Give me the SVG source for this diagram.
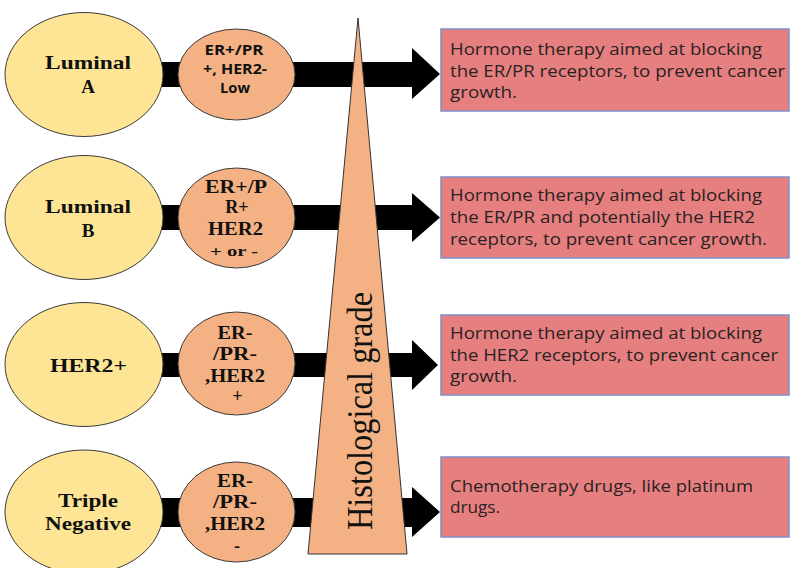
<svg xmlns="http://www.w3.org/2000/svg" width="791" height="568" viewBox="0 0 791 568">
<style>
.sub{fill:#FDE595;stroke:#3a3a3a;stroke-width:1}
.mk{fill:#F4B183;stroke:#3a3a3a;stroke-width:1}
.box{fill:#E67F7F;stroke:#7F8FC4;stroke-width:1.5}
.arr{fill:#000}
.lt{font-family:"Liberation Serif","Times New Roman",serif;font-weight:bold;font-size:19px;fill:#111;text-anchor:middle}
.ms{font-family:"Liberation Serif","Times New Roman",serif;font-weight:bold;font-size:18px;fill:#111;text-anchor:middle}
.mc{font-family:"Open Sans","Liberation Sans",sans-serif;font-weight:bold;font-size:14px;fill:#111;text-anchor:middle}
.bt{font-family:"Open Sans","Liberation Sans",sans-serif;font-size:16px;fill:#2a2222}
.hg{font-family:"Liberation Serif","Times New Roman",serif;font-size:36px;fill:#111}
</style>
<rect width="791" height="568" fill="#fff"/>
<g id="connectors">
<polygon class="arr" points="150,62 412,62 412,48 440,74 412,99 412,87 150,87"/>
<polygon class="arr" points="150,205 412,205 412,193 440,217.5 412,242 412,230 150,230"/>
<polygon class="arr" points="150,353 412,353 412,340 438,365 412,390 412,377 150,377"/>
<polygon class="arr" points="150,498 412,498 412,487 440,512 412,537 412,527 150,527"/>
</g>
<g id="luminal-a">
<ellipse class="sub" cx="84" cy="74.5" rx="79" ry="62"/>
<text class="lt" x="88" y="69" textLength="86" lengthAdjust="spacingAndGlyphs">Luminal</text>
<text class="lt" x="88" y="93">A</text>
</g>
<g id="luminal-a-markers">
<ellipse class="mk" cx="236.5" cy="74.5" rx="58.5" ry="45.5"/>
<text class="mc" x="234" y="55" textLength="59" lengthAdjust="spacingAndGlyphs">ER+/PR</text>
<text class="mc" x="235" y="74" textLength="64" lengthAdjust="spacingAndGlyphs">+, HER2-</text>
<text class="mc" x="235" y="93" textLength="30" lengthAdjust="spacingAndGlyphs">Low</text>
</g>
<g id="luminal-b">
<ellipse class="sub" cx="84" cy="217.5" rx="79" ry="62"/>
<text class="lt" x="88" y="213" textLength="86" lengthAdjust="spacingAndGlyphs">Luminal</text>
<text class="lt" x="88" y="237">B</text>
</g>
<g id="luminal-b-markers">
<ellipse class="mk" cx="236.5" cy="218" rx="58.5" ry="50"/>
<text class="ms" x="236" y="193" textLength="62" lengthAdjust="spacingAndGlyphs">ER+/P</text>
<text class="ms" x="237" y="213">R+</text>
<text class="ms" x="235.5" y="235" textLength="55" lengthAdjust="spacingAndGlyphs">HER2</text>
<text class="ms" x="234" y="256" style="font-size:15px" textLength="48" lengthAdjust="spacingAndGlyphs">+ or -</text>
</g>
<g id="her2">
<ellipse class="sub" cx="84" cy="364.5" rx="79" ry="62"/>
<text class="lt" x="88.5" y="372" textLength="77" lengthAdjust="spacingAndGlyphs">HER2+</text>
</g>
<g id="her2-markers">
<ellipse class="mk" cx="236.5" cy="363.5" rx="58.5" ry="51.5"/>
<text class="ms" x="235" y="339" textLength="35" lengthAdjust="spacingAndGlyphs">ER-</text>
<text class="ms" x="235" y="360" textLength="44" lengthAdjust="spacingAndGlyphs">/PR-</text>
<text class="ms" x="235" y="382" textLength="60" lengthAdjust="spacingAndGlyphs">,HER2</text>
<text class="ms" x="237.5" y="402">+</text>
</g>
<g id="triple-negative">
<ellipse class="sub" cx="84" cy="512" rx="79" ry="62"/>
<text class="lt" x="88" y="507" textLength="60" lengthAdjust="spacingAndGlyphs">Triple</text>
<text class="lt" x="88" y="530" textLength="86" lengthAdjust="spacingAndGlyphs">Negative</text>
</g>
<g id="triple-negative-markers">
<ellipse class="mk" cx="236.5" cy="512" rx="58.5" ry="50"/>
<text class="ms" x="235" y="487" textLength="36" lengthAdjust="spacingAndGlyphs">ER-</text>
<text class="ms" x="235" y="508" textLength="44" lengthAdjust="spacingAndGlyphs">/PR-</text>
<text class="ms" x="235" y="530" textLength="60" lengthAdjust="spacingAndGlyphs">,HER2</text>
<text class="ms" x="237" y="552">-</text>
</g>
<g id="histological-grade">
<polygon points="358,18 407,554 308,554" fill="#F4B183" stroke="#333" stroke-width="1"/>
<text class="hg" transform="translate(371.5,530) rotate(-90)" x="0" y="0" textLength="238" lengthAdjust="spacingAndGlyphs">Histological grade</text>
</g>
<g id="therapy-a">
<rect class="box" x="441" y="29" width="348" height="82"/>
<text class="bt" x="450" y="55" textLength="312" lengthAdjust="spacingAndGlyphs">Hormone therapy aimed at blocking</text>
<text class="bt" x="450" y="77" textLength="335" lengthAdjust="spacingAndGlyphs">the ER/PR receptors, to prevent cancer</text>
<text class="bt" x="450" y="98" textLength="67" lengthAdjust="spacingAndGlyphs">growth.</text>
</g>
<g id="therapy-b">
<rect class="box" x="441" y="177" width="348" height="81"/>
<text class="bt" x="450" y="201" textLength="312" lengthAdjust="spacingAndGlyphs">Hormone therapy aimed at blocking</text>
<text class="bt" x="450" y="223" textLength="305" lengthAdjust="spacingAndGlyphs">the ER/PR and potentially the HER2</text>
<text class="bt" x="450" y="245" textLength="317" lengthAdjust="spacingAndGlyphs">receptors, to prevent cancer growth.</text>
</g>
<g id="therapy-her2">
<rect class="box" x="441" y="315" width="348" height="80"/>
<text class="bt" x="450" y="339" textLength="312" lengthAdjust="spacingAndGlyphs">Hormone therapy aimed at blocking</text>
<text class="bt" x="450" y="361" textLength="328" lengthAdjust="spacingAndGlyphs">the HER2 receptors, to prevent cancer</text>
<text class="bt" x="450" y="382" textLength="67" lengthAdjust="spacingAndGlyphs">growth.</text>
</g>
<g id="therapy-tn">
<rect class="box" x="441" y="457" width="348" height="80"/>
<text class="bt" x="450" y="492" textLength="303" lengthAdjust="spacingAndGlyphs">Chemotherapy drugs, like platinum</text>
<text class="bt" x="450" y="513" textLength="50" lengthAdjust="spacingAndGlyphs">drugs.</text>
</g>
</svg>
